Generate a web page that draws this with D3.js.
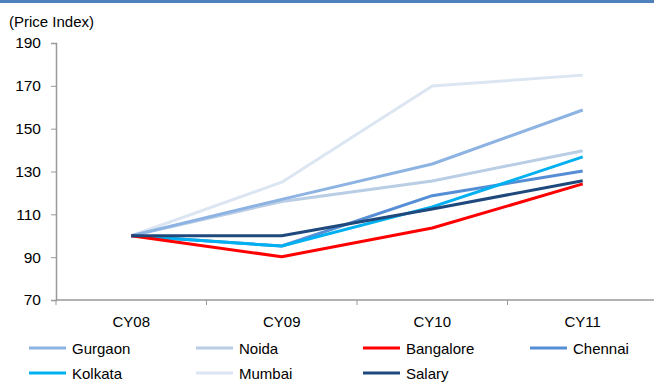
<!DOCTYPE html>
<html>
<head>
<meta charset="utf-8">
<script src="https://cdn.jsdelivr.net/npm/d3@7"></script>
<style>
  html, body { margin: 0; padding: 0; background: #fff; }
  svg { display: block; font-family: "Liberation Sans", Arial, sans-serif; }
</style>
</head>
<body>
<svg id="chart" width="654" height="383"></svg>
<script>
// Price index by city, CY08 = 100
const categories = ["CY08", "CY09", "CY10", "CY11"];
const yTicks = [70, 90, 110, 130, 150, 170, 190];
const gurgaon   = [100, 117, 133.5, 158.7];
const noida     = [100, 116, 125.6, 139.7];
const bangalore = [100, 90.2, 103.6, 124.2];
const chennai   = [100, 95.2, 118.7, 130.2];
const kolkata   = [100, 95.2, 113.5, 136.8];
const mumbai    = [100, 125, 169.9, 175];
const salary    = [100, 100, 112.5, 125.7];

const seriesNames = ["Gurgaon", "Noida", "Bangalore", "Chennai", "Kolkata", "Mumbai", "Salary"];
const seriesValues = [gurgaon, noida, bangalore, chennai, kolkata, mumbai, salary];
const seriesColors = ["#8db3e2", "#b9cde5", "#ff0000", "#558ed5", "#00b0f0", "#dce6f2", "#1f497d"];
// drawing order: lighter lines underneath
const drawOrder = ["Mumbai", "Noida", "Gurgaon", "Chennai", "Kolkata", "Bangalore", "Salary"];

const FONT = "Liberation Sans, Arial, sans-serif";
const svg = d3.select("#chart");
const x0 = 56, x1 = 658, yTop = 43, yBot = 300;

// top rule
svg.append("rect").attr("x", 0).attr("y", 0).attr("width", 654).attr("height", 3).attr("fill", "#4f81bd");

const x = d3.scaleBand().domain(categories).range([x0, x1]);
const y = d3.scaleLinear().domain([70, 190]).range([yBot, yTop]);

// y axis
const yAxis = svg.append("g").attr("transform", `translate(${x0},0)`)
  .call(d3.axisLeft(y).tickValues(yTicks).tickSize(5).tickPadding(10));
yAxis.attr("font-family", FONT);
yAxis.select(".domain").attr("stroke", "#999").attr("stroke-width", 1.5);
yAxis.selectAll(".tick line").attr("stroke", "#999");
yAxis.selectAll(".tick text").attr("font-size", 15.5).attr("fill", "#000");

// x axis
const xAxis = svg.append("g").attr("transform", `translate(0,${yBot})`);
xAxis.append("line").attr("x1", x0).attr("x2", 654).attr("y1", 0).attr("y2", 0)
  .attr("stroke", "#999").attr("stroke-width", 1.5);
xAxis.selectAll(".xt").data(categories).enter()
  .append("line")
  .attr("x1", d => x(d)).attr("x2", d => x(d)).attr("y1", 0).attr("y2", 5)
  .attr("stroke", "#999");
xAxis.selectAll(".xl").data(categories).enter().append("text")
  .attr("x", d => x(d) + x.bandwidth() / 2).attr("y", 27)
  .attr("text-anchor", "middle").attr("font-size", 15).attr("fill", "#000")
  .text(d => d);

// axis title
svg.append("text").attr("x", 9).attr("y", 27).attr("font-size", 15).attr("fill", "#000")
  .text("(Price Index)");

// lines
const line = d3.line()
  .x((d, i) => x(categories[i]) + x.bandwidth() / 2)
  .y(d => y(d));
drawOrder.forEach(name => {
  const i = seriesNames.indexOf(name);
  svg.append("path").datum(seriesValues[i])
    .attr("d", line).attr("fill", "none")
    .attr("stroke", seriesColors[i]).attr("stroke-width", 3)
    .attr("stroke-linejoin", "round");
});

// legend
const legX = [29, 196, 363, 530];
const legY = [348, 373];
seriesNames.forEach((name, i) => {
  const cx = legX[i % 4], cy = legY[Math.floor(i / 4)];
  const g = svg.append("g");
  g.append("line").attr("x1", cx).attr("x2", cx + 37).attr("y1", cy).attr("y2", cy)
    .attr("stroke", seriesColors[i]).attr("stroke-width", 3);
  g.append("text").attr("x", cx + 43).attr("y", cy + 6).attr("font-size", 15)
    .attr("fill", "#000").text(name);
});
</script>
</body>
</html>
